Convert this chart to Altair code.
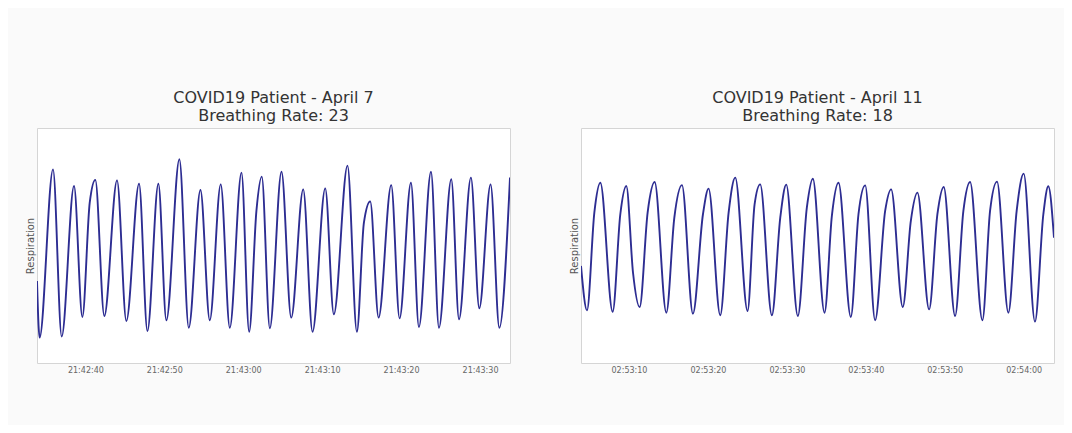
import altair as alt
import pandas as pd

# ---- texts ----
left_title = ["COVID19 Patient - April 7", "Breathing Rate: 23"]
right_title = ["COVID19 Patient - April 11", "Breathing Rate: 18"]
y_title = "Respiration"

# ---- reference instants (seconds below are offsets from these) ----
left_ref = "2020-04-07T21:42:40"
right_ref = "2020-04-11T02:53:10"

# ---- April 7 trace (seconds from ref, respiration level) ----
left_seconds = [-6.13, -5.80, -4.10, -3.00, -1.44, -0.38, 0.55, 1.26, 2.40, 4.01,
                5.19, 6.80, 7.86, 9.25, 10.26, 11.91, 13.10, 14.58, 15.76, 17.15,
                18.30, 19.78, 20.75, 21.67, 22.35, 23.37, 24.85, 26.08, 27.60, 28.78,
                30.39, 31.48, 33.21, 34.40, 35.29, 36.09, 37.15, 38.75, 39.81, 41.25,
                42.26, 43.79, 44.80, 46.36, 47.34, 48.85, 49.91, 51.34, 52.45, 53.80]
left_values = [34.9, 10.8, 82.4, 11.3, 75.3, 19.6, 68.2, 77.9, 20.0, 77.7,
               17.9, 76.3, 13.6, 76.3, 18.2, 86.7, 15.0, 73.6, 18.2, 76.0,
               15.0, 81.0, 13.3, 64.7, 79.3, 14.8, 81.4, 19.3, 73.9, 13.3,
               74.3, 20.7, 84.0, 13.3, 59.7, 68.7, 19.3, 75.7, 19.0, 76.7,
               15.3, 81.4, 15.0, 78.2, 18.6, 78.9, 23.3, 76.0, 15.0, 78.9]

# ---- April 11 trace ----
right_seconds = [-6.08, -5.32, -4.39, -3.63, -2.07, -1.10, -0.34, 0.51, 1.35, 2.36,
                 3.25, 4.73, 5.74, 6.71, 8.10, 9.37, 10.08, 11.56, 12.62, 13.46,
                 15.02, 15.91, 16.62, 18.10, 19.16, 19.92, 21.39, 22.53, 23.29, 24.77,
                 25.70, 26.54, 28.10, 29.07, 29.92, 31.18, 32.45, 33.21, 34.68, 35.70,
                 36.54, 38.02, 39.07, 39.87, 41.31, 42.36, 43.21, 44.77, 45.74, 46.62,
                 48.06, 49.11, 50.00, 51.43, 52.49, 53.12, 53.84]
right_values = [41.3, 22.4, 64.0, 76.7, 21.8, 63.3, 75.3, 38.4, 23.8, 64.0,
                77.0, 21.4, 61.8, 75.7, 21.0, 63.3, 74.2, 20.3, 64.0, 78.9,
                22.1, 67.5, 76.0, 20.3, 61.8, 75.9, 20.0, 66.1, 78.4, 21.4,
                62.6, 76.7, 19.6, 63.3, 75.6, 18.2, 64.7, 73.9, 23.8, 60.4,
                72.5, 22.8, 63.3, 74.9, 20.0, 64.7, 77.0, 18.2, 64.7, 77.2,
                21.4, 64.7, 80.6, 17.6, 63.3, 75.2, 53.3]

# ---- axis extents / ticks ----
left_domain = [alt.DateTime(year=2020, month=4, date=7, hours=21, minutes=42, seconds=33, milliseconds=870),
               alt.DateTime(year=2020, month=4, date=7, hours=21, minutes=43, seconds=33, milliseconds=800)]
left_ticks = [alt.DateTime(year=2020, month=4, date=7, hours=h, minutes=m, seconds=s)
              for h, m, s in [(21, 42, 40), (21, 42, 50), (21, 43, 0), (21, 43, 10), (21, 43, 20), (21, 43, 30)]]
right_domain = [alt.DateTime(year=2020, month=4, date=11, hours=2, minutes=53, seconds=3, milliseconds=920),
                alt.DateTime(year=2020, month=4, date=11, hours=2, minutes=54, seconds=3, milliseconds=840)]
right_ticks = [alt.DateTime(year=2020, month=4, date=11, hours=h, minutes=m, seconds=s)
               for h, m, s in [(2, 53, 10), (2, 53, 20), (2, 53, 30), (2, 53, 40), (2, 53, 50), (2, 54, 0)]]


def make_df(ref, secs, vals):
    t = pd.Timestamp(ref) + pd.to_timedelta(secs, unit="s")
    return pd.DataFrame({
        "time": t.strftime("%Y-%m-%dT%H:%M:%S.%f").str[:-3],
        "value": vals,
    })


FONT = "DejaVu Sans"


def panel(df, title, domain, ticks):
    return alt.Chart(df).mark_line(
        color="#2d2d92", strokeWidth=1.9, interpolate="monotone", clip=True
    ).encode(
        x=alt.X("time:T",
                scale=alt.Scale(domain=domain, nice=False),
                axis=alt.Axis(values=ticks, format="%H:%M:%S", title=None,
                              ticks=False, domain=False, grid=False,
                              labelFontSize=8, labelColor="#666666",
                              labelPadding=3, labelFont=FONT)),
        y=alt.Y("value:Q",
                scale=alt.Scale(domain=[0, 100], nice=False),
                axis=alt.Axis(title=y_title, labels=False, ticks=False,
                              domain=False, grid=False, titleFontSize=10,
                              titleFontWeight="normal", titleColor="#555555",
                              titleFont=FONT, titlePadding=2)),
    ).properties(
        width=473, height=235,
        title=alt.TitleParams(text=title, fontSize=16, font=FONT,
                              fontWeight="normal", color="#333333",
                              anchor="middle", offset=4, lineHeight=18),
    )


left = panel(make_df(left_ref, left_seconds, left_values), left_title, left_domain, left_ticks)
right = panel(make_df(right_ref, right_seconds, right_values), right_title, right_domain, right_ticks)

chart = alt.hconcat(left, right, spacing=57).properties(
    padding={"left": 16, "top": 81, "right": 9, "bottom": 50},
    background="#fafafa",
).configure_view(fill="white", stroke="#d5d5d5", strokeWidth=1)

chart.save("out.html", embed_options={"renderer": "svg", "actions": False})
